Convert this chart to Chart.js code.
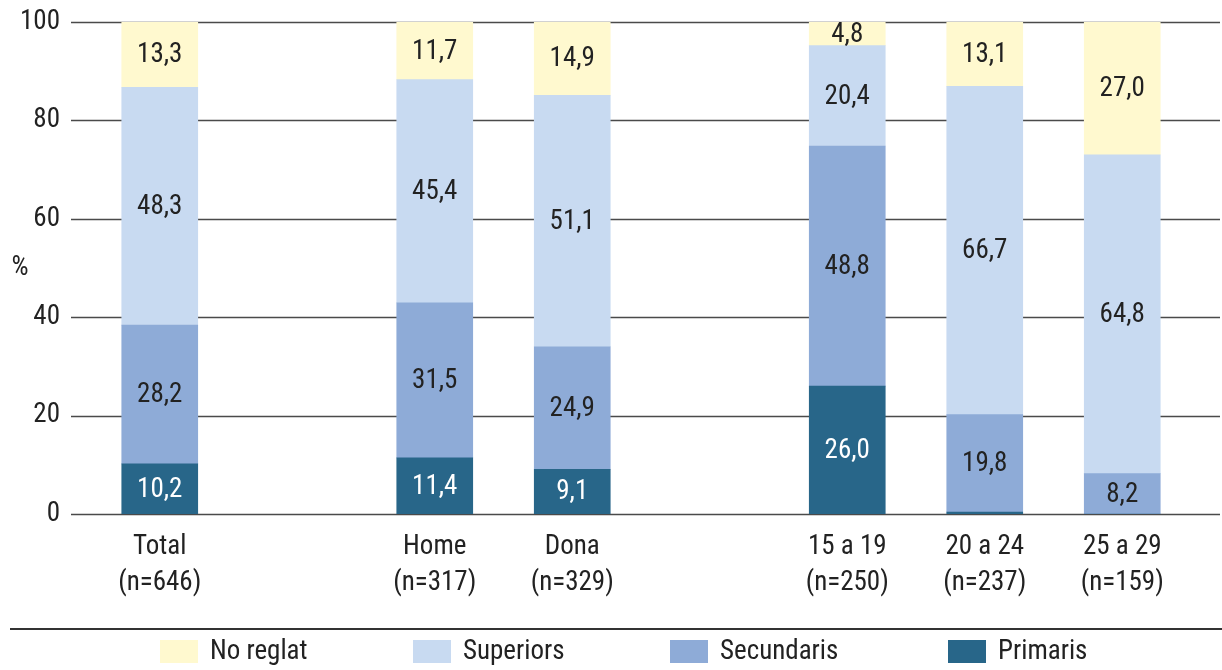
<!DOCTYPE html>
<html>
<head>
<meta charset="utf-8">
<script src="https://cdn.jsdelivr.net/npm/chart.js@4"></script>
<style>
  html, body { margin: 0; padding: 0; background: #fff; }
</style>
</head>
<body>
<canvas id="grafic" width="1222" height="670"></canvas>
<script>
// Dades (%), ordre de baix a dalt de la pila
const categories = [["Total", "(n=646)"], "", ["Home", "(n=317)"], ["Dona", "(n=329)"], "",
  ["15 a 19", "(n=250)"], ["20 a 24", "(n=237)"], ["25 a 29", "(n=159)"]];
const primaris = [10.2, null, 11.4, 9.1, null, 26.0, 0.4, 0];
const secundaris = [28.2, null, 31.5, 24.9, null, 48.8, 19.8, 8.2];
const superiors = [48.3, null, 45.4, 51.1, null, 20.4, 66.7, 64.8];
const noReglat = [13.3, null, 11.7, 14.9, null, 4.8, 13.1, 27.0];
const yTicks = [0, 20, 40, 60, 80, 100];

const FONT = "'Liberation Sans Narrow', 'Roboto Condensed', 'Liberation Sans', sans-serif";
const TEXT = "#222222";
const MIDA = 27;

// línies horitzontals de la graella (més llargues que l'àrea del gràfic)
const graella = {
  id: "graella",
  beforeDatasetsDraw(chart) {
    const ctx = chart.ctx;
    const y = chart.scales.y;
    ctx.save();
    ctx.strokeStyle = "#4a4a4a";
    ctx.lineWidth = 1.3;
    yTicks.forEach(function (v) {
      const py = Math.round(y.getPixelForValue(v)) + 0.5;
      ctx.beginPath();
      ctx.moveTo(71, py);
      ctx.lineTo(1220, py);
      ctx.stroke();
    });
    // símbol % a l'eix
    ctx.fillStyle = TEXT;
    ctx.font = MIDA + "px " + FONT;
    ctx.textAlign = "center";
    ctx.textBaseline = "middle";
    ctx.fillText("%", 20, (chart.chartArea.top + chart.chartArea.bottom) / 2);
    ctx.restore();
  }
};

// valors dins de cada segment
const etiquetes = {
  id: "etiquetes",
  afterDatasetsDraw(chart) {
    const ctx = chart.ctx;
    ctx.save();
    ctx.font = MIDA + "px " + FONT;
    ctx.textAlign = "center";
    ctx.textBaseline = "middle";
    chart.data.datasets.forEach(function (ds, i) {
      const meta = chart.getDatasetMeta(i);
      meta.data.forEach(function (bar, j) {
        const v = ds.data[j];
        if (v == null || v < 2) return;
        ctx.fillStyle = ds.labelColor;
        ctx.fillText(v.toFixed(1).replace(".", ","), bar.x, (bar.y + bar.base) / 2 + 1);
      });
    });
    ctx.restore();
  }
};

// llegenda pròpia amb la línia de separació
const posLlegenda = [160, 413, 670, 948];
const llegenda = {
  id: "llegenda",
  afterDraw(chart) {
    const ctx = chart.ctx;
    ctx.save();
    ctx.strokeStyle = "#333333";
    ctx.lineWidth = 2;
    ctx.beginPath();
    ctx.moveTo(10, 629);
    ctx.lineTo(1222, 629);
    ctx.stroke();

    ctx.font = MIDA + "px " + FONT;
    ctx.textBaseline = "middle";
    ctx.textAlign = "left";
    const items = chart.data.datasets.slice().reverse();
    items.forEach(function (ds, k) {
      const x = posLlegenda[k];
      ctx.fillStyle = ds.backgroundColor;
      ctx.fillRect(x, 640, 38, 23);
      ctx.fillStyle = TEXT;
      ctx.fillText(ds.label, x + 50, 652);
    });
    ctx.restore();
  }
};

new Chart(document.getElementById("grafic"), {
  type: "bar",
  data: {
    labels: categories,
    datasets: [
      { label: "Primaris", data: primaris, backgroundColor: "#286689", labelColor: "#ffffff" },
      { label: "Secundaris", data: secundaris, backgroundColor: "#8eabd7", labelColor: TEXT },
      { label: "Superiors", data: superiors, backgroundColor: "#c8daf1", labelColor: TEXT },
      { label: "No reglat", data: noReglat, backgroundColor: "#fff9cf", labelColor: TEXT }
    ]
  },
  options: {
    responsive: false,
    animation: false,
    layout: { padding: { top: 22, right: 31, left: 0, bottom: 0 } },
    datasets: { bar: { barThickness: 76, borderWidth: 0 } },
    scales: {
      x: {
        stacked: true,
        grid: { display: false },
        border: { display: false },
        ticks: {
          color: TEXT,
          padding: 7,
          maxRotation: 0,
          autoSkip: false,
          font: { family: FONT, size: MIDA, lineHeight: 1.33 }
        },
        afterFit(scale) { scale.height = 156; }
      },
      y: {
        stacked: true,
        min: 0,
        max: 100,
        grid: { display: false, drawTicks: false },
        border: { display: false },
        ticks: {
          stepSize: 20,
          color: TEXT,
          padding: 31,
          font: { family: FONT, size: MIDA }
        },
        afterFit(scale) {
          scale.width = 91;
          scale.paddingTop = 0;
          scale.paddingBottom = 0;
        }
      }
    },
    plugins: {
      legend: { display: false },
      tooltip: { enabled: false }
    }
  },
  plugins: [graella, etiquetes, llegenda]
});
</script>
</body>
</html>
